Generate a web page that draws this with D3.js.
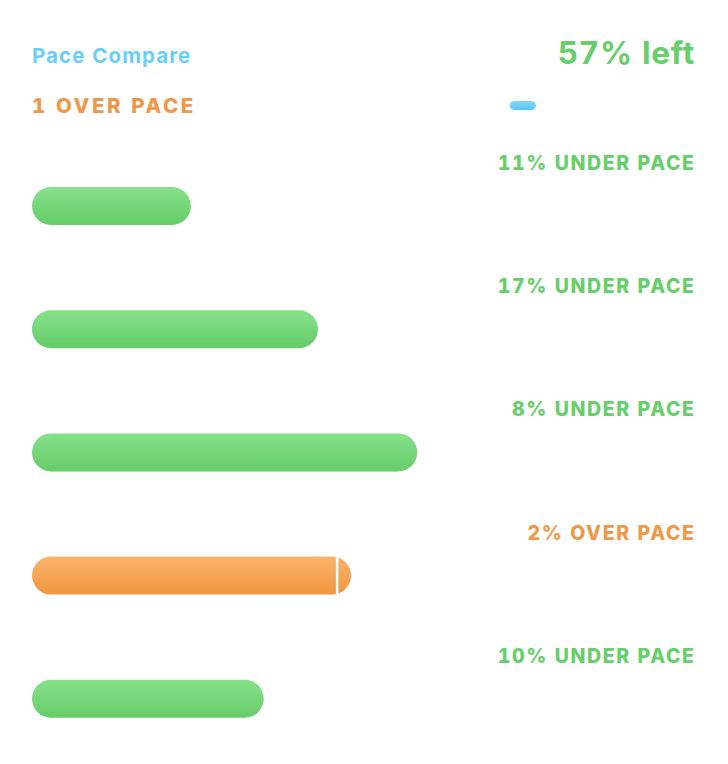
<!DOCTYPE html>
<html><head><meta charset="utf-8">
<script src="https://cdn.jsdelivr.net/npm/d3@7"></script>
<style>html,body{margin:0;padding:0;background:#fff;}svg{display:block;}text{font-variant-numeric:tabular-nums;}</style>
</head><body>
<svg id="chart" width="728" height="764"></svg>
<script>
const title = "Pace Compare";
const subtitle = "1 OVER PACE";
const remaining = "57% left";
const paceMarker = [72.2, 76.1];
const labels = ["11% UNDER PACE", "17% UNDER PACE", "8% UNDER PACE", "2% OVER PACE", "10% UNDER PACE"];
const values = [24.0, 43.2, 58.2, 48.2, 35.0];
const status = ["under", "under", "under", "over", "under"];
const markers = [null, null, null, 45.9, null];

const W = 728, H = 764;
const left = 32, right = 694;
const svg = d3.select("#chart");
const font = "Inter, 'Open Sans', sans-serif";
const GREEN = "#66CE6A", ORANGE = "#F0984A", BLUE = "#6ACEF9";

const defs = svg.append("defs");
function grad(id, top, bot) {
  const g = defs.append("linearGradient").attr("id", id).attr("x1", 0).attr("y1", 0).attr("x2", 0).attr("y2", 1);
  g.append("stop").attr("offset", "0%").attr("stop-color", top);
  g.append("stop").attr("offset", "100%").attr("stop-color", bot);
}
grad("gGreen", "#86E18A", "#65CC69");
grad("gOrange", "#FAB36C", "#F0963F");
grad("gBlue", "#7FD8FC", "#5BC6F7");

const x = d3.scaleLinear().domain([0, 100]).range([left, right]);
const y = d3.scaleBand().domain(d3.range(values.length)).range([140, 756]).paddingInner(0).paddingOuter(0);

svg.append("text").attr("x", left).attr("y", 63).attr("font-family", font).attr("font-weight", 700)
  .attr("font-size", 20.5).attr("letter-spacing", 1.1).attr("fill", BLUE).text(title);
svg.append("text").attr("x", left).attr("y", 113).attr("font-family", font).attr("font-weight", 800)
  .attr("font-size", 20.5).attr("letter-spacing", 2.6).attr("fill", ORANGE).text(subtitle);
svg.append("text").attr("x", right + 1).attr("y", 64).attr("text-anchor", "end").attr("font-family", font).attr("font-weight", 700)
  .attr("font-size", 31.6).attr("letter-spacing", 0.7).attr("fill", GREEN).text(remaining);

svg.append("rect").attr("x", x(paceMarker[0])).attr("y", 101)
  .attr("width", x(paceMarker[1]) - x(paceMarker[0])).attr("height", 9).attr("rx", 4.5)
  .attr("fill", "url(#gBlue)");

const barH = 38;
const rowData = values.map((v, i) => ({ v, label: labels[i], status: status[i], marker: markers[i], i }));
const rows = svg.selectAll("g.row").data(rowData).enter().append("g").attr("class", "row")
  .attr("transform", d => `translate(0,${y(d.i)})`);

rows.append("text").attr("x", right + 1.5).attr("y", 30).attr("text-anchor", "end")
  .attr("font-family", font).attr("font-weight", 800).attr("font-size", 19.5).attr("letter-spacing", 1.6)
  .attr("fill", d => d.status === "over" ? ORANGE : GREEN).text(d => d.label);

rows.append("rect").attr("x", x(0)).attr("y", 47).attr("height", barH)
  .attr("width", d => x(d.v) - x(0)).attr("rx", barH / 2)
  .attr("fill", d => d.status === "over" ? "url(#gOrange)" : "url(#gGreen)");

rows.filter(d => d.marker != null).append("rect")
  .attr("x", d => x(d.marker)).attr("y", 47).attr("width", 2.5).attr("height", barH)
  .attr("fill", "#fff");
</script>
</body></html>
